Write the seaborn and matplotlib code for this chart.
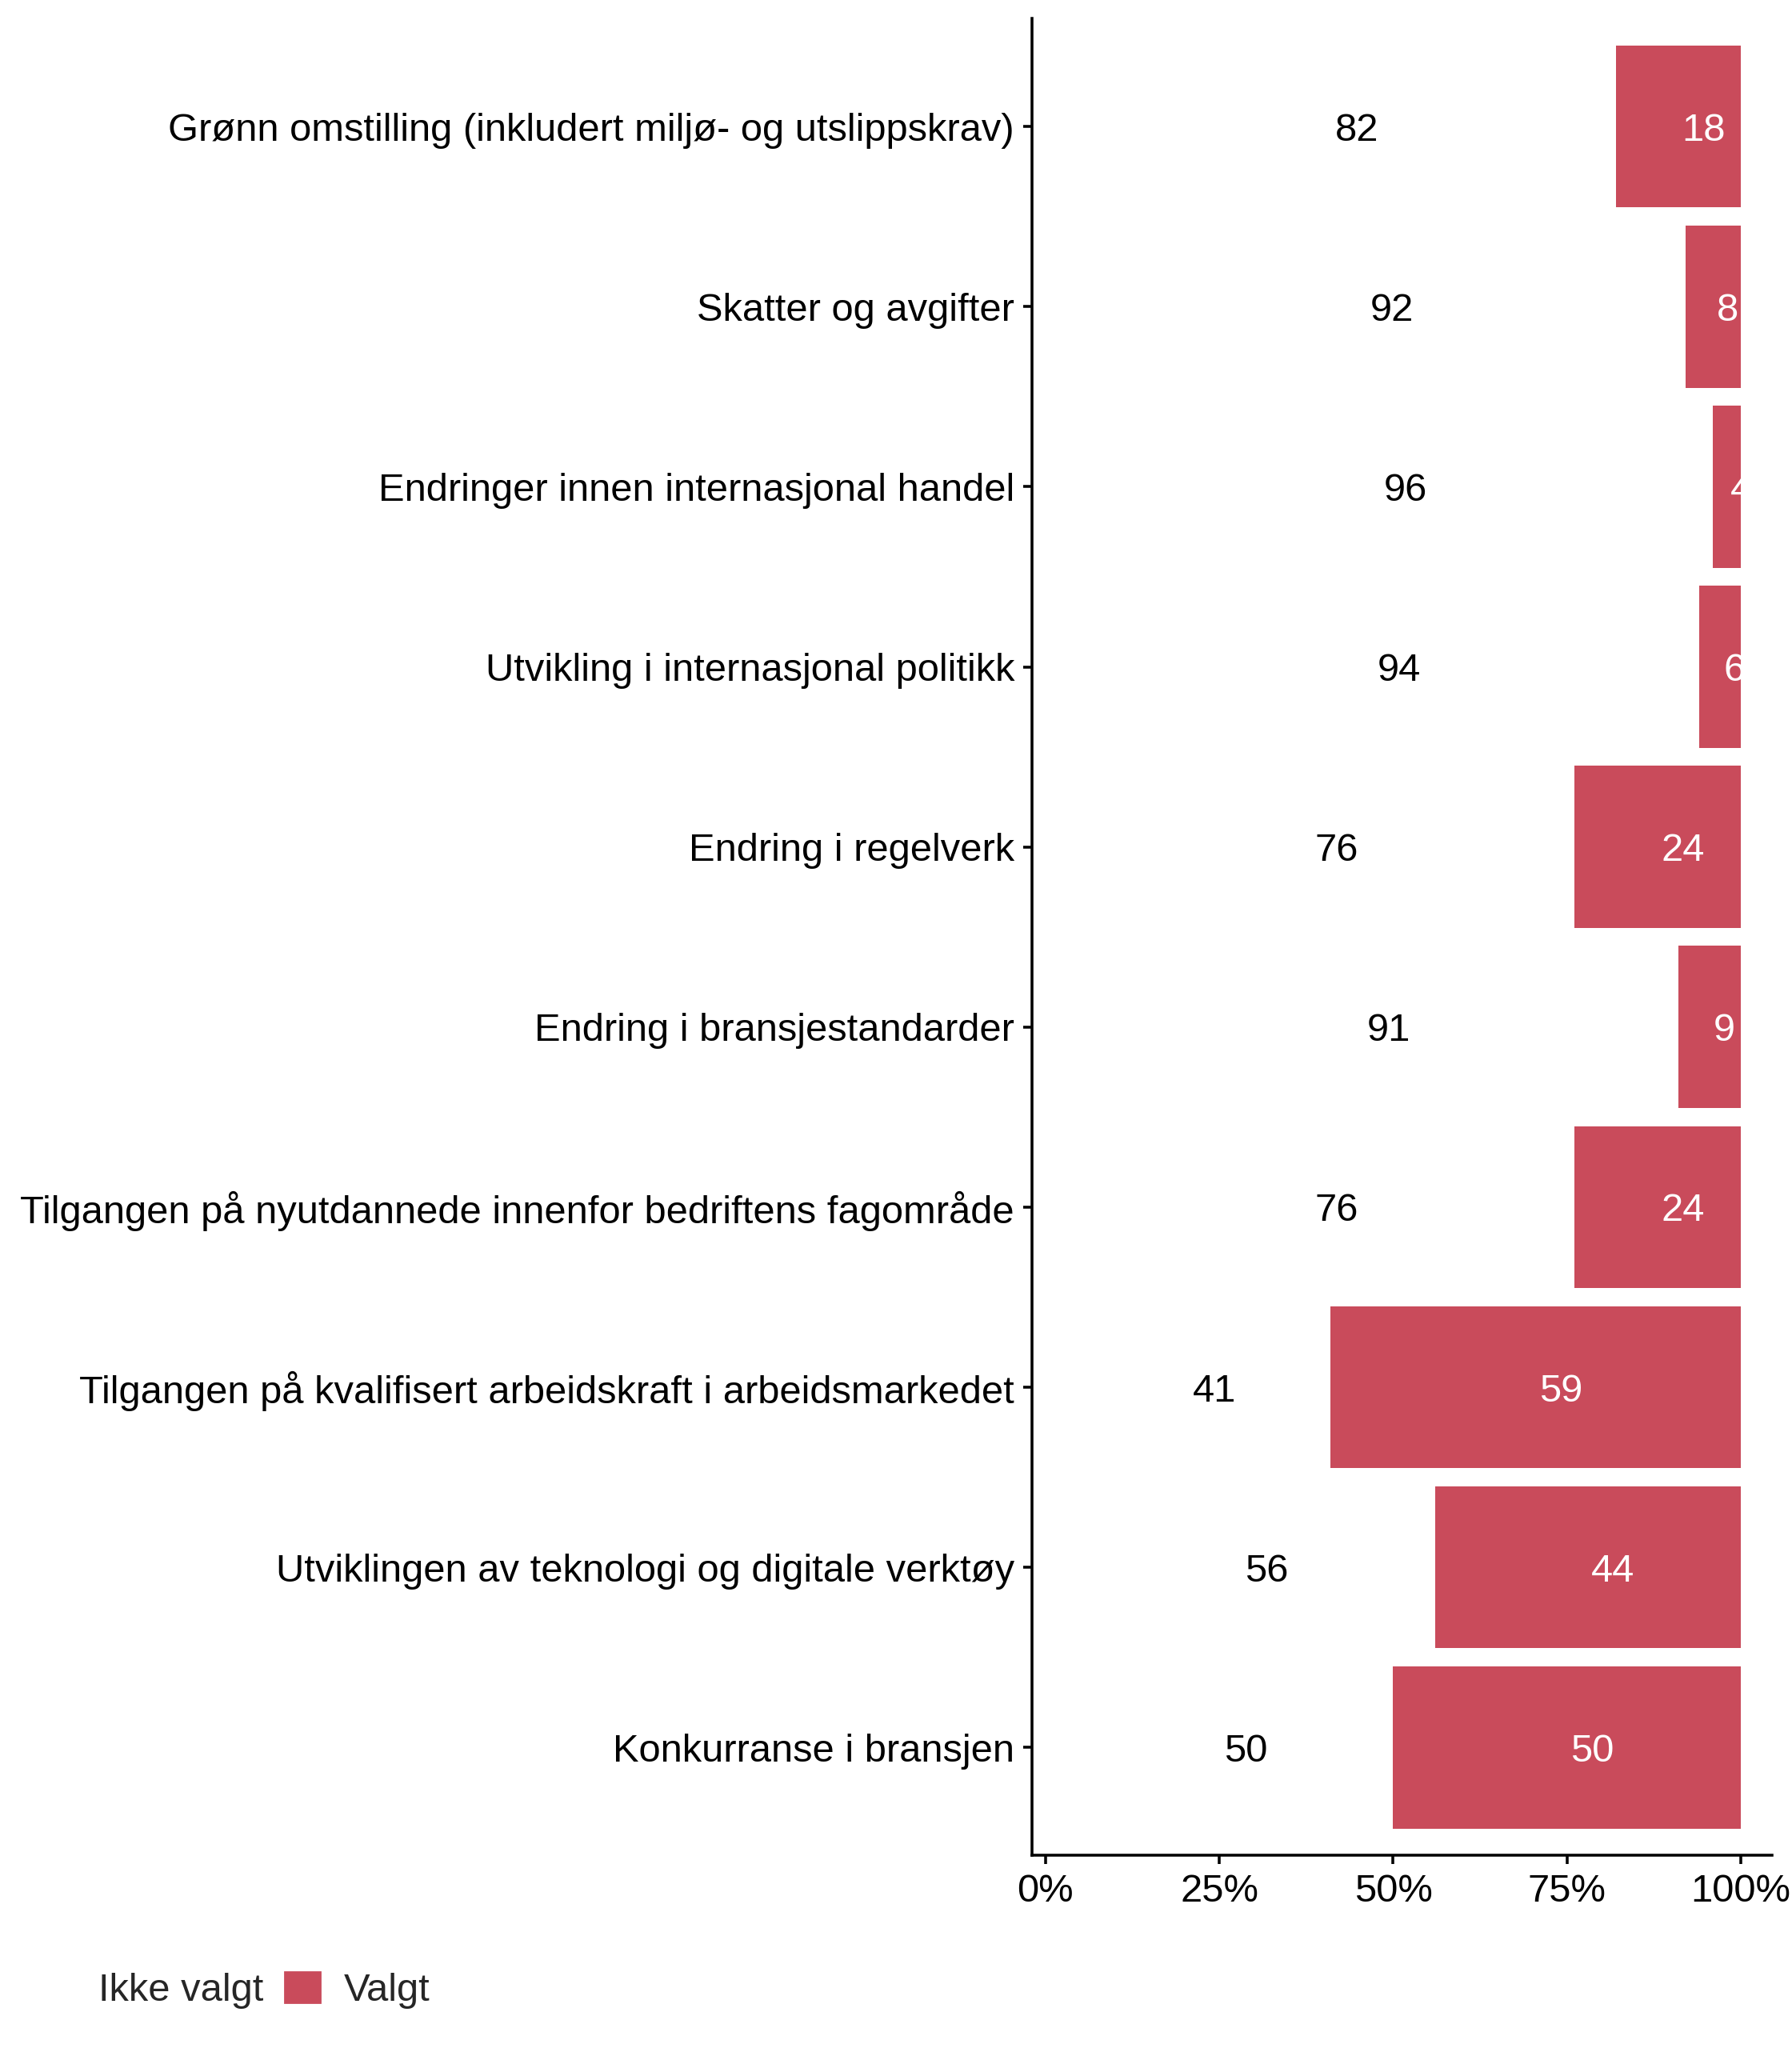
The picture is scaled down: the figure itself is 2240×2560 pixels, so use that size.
import pandas as pd
import seaborn as sns
import matplotlib.pyplot as plt
from matplotlib.patches import Patch
from matplotlib.ticker import PercentFormatter

# data lest av fra figuren (prosent)
kategorier = [
    "Grønn omstilling (inkludert miljø- og utslippskrav)",
    "Skatter og avgifter",
    "Endringer innen internasjonal handel",
    "Utvikling i internasjonal politikk",
    "Endring i regelverk",
    "Endring i bransjestandarder",
    "Tilgangen på nyutdannede innenfor bedriftens fagområde",
    "Tilgangen på kvalifisert arbeidskraft i arbeidsmarkedet",
    "Utviklingen av teknologi og digitale verktøy",
    "Konkurranse i bransjen",
]
ikke_valgt = [82, 92, 96, 94, 76, 91, 76, 41, 56, 50]
valgt = [18, 8, 4, 6, 24, 9, 24, 59, 44, 50]

df = pd.DataFrame({"Kategori": kategorier, "Ikke valgt": ikke_valgt, "Valgt": valgt})
df["Total"] = df["Ikke valgt"] + df["Valgt"]

sns.set_theme(style="ticks")
plt.rcParams["font.family"] = ["Liberation Sans", "DejaVu Sans"]

rod = "#C94B5B"
fs = 22

fig, ax = plt.subplots(figsize=(14, 16), dpi=160)
fig.subplots_adjust(left=0.576, right=0.989, top=0.991, bottom=0.094)

# stablet: hele søylen rød, "Ikke valgt"-delen hvit oppå
sns.barplot(data=df, y="Kategori", x="Total", color=rod, width=0.9,
            saturation=1, linewidth=0, ax=ax)
sns.barplot(data=df, y="Kategori", x="Ikke valgt", color="white", width=0.9,
            saturation=1, linewidth=0, ax=ax)

for i, row in df.iterrows():
    ax.text(row["Ikke valgt"] / 2 + 0.7, i, str(row["Ikke valgt"]),
            ha="left", va="center_baseline", color="black", fontsize=fs)
    ax.text(row["Ikke valgt"] + row["Valgt"] / 2 + 0.5, i, str(row["Valgt"]),
            ha="left", va="center_baseline", color="white", fontsize=fs)

ax.set_xlim(-1.9, 104.5)
ax.set_ylim(len(kategorier) - 0.4, -0.6)
ax.set_xticks([0, 25, 50, 75, 100])
ax.xaxis.set_major_formatter(PercentFormatter(100, decimals=0))
ax.set_xlabel("")
ax.set_ylabel("")
sns.despine(ax=ax)
for s in ["left", "bottom"]:
    ax.spines[s].set_linewidth(1.6)
    ax.spines[s].set_color("black")
ax.tick_params(length=5, width=1.6, pad=5, labelsize=fs, colors="black")

fig.legend(handles=[Patch(facecolor="white", label="Ikke valgt"),
                    Patch(facecolor=rod, label="Valgt")],
           loc="center left", bbox_to_anchor=(0.021, 0.0285), ncol=2,
           frameon=False, fontsize=fs, handlelength=1.0, handleheight=1.0,
           handletextpad=0.55, columnspacing=0.5, borderpad=0, borderaxespad=0)

plt.savefig("out.png", dpi=160)
